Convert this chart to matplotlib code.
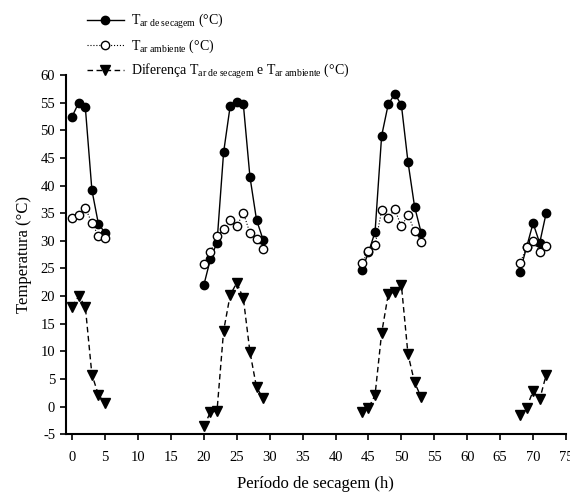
import numpy as np
import matplotlib
matplotlib.use("Agg")
import matplotlib.pyplot as plt

plt.rcParams['font.family'] = ['Liberation Serif', 'DejaVu Serif']
plt.rcParams['mathtext.fontset'] = 'custom'
plt.rcParams['mathtext.rm'] = 'Liberation Serif'
plt.rcParams['mathtext.it'] = 'Liberation Serif:italic'
plt.rcParams['axes.unicode_minus'] = False

nan = np.nan

# hours (nan breaks the lines between drying days)
hours = [0, 1, 2, 3, 4, 5, nan,
         20, 21, 22, 23, 24, 25, 26, 27, 28, 29, nan,
         44, 45, 46, 47, 48, 49, 50, 51, 52, 53, nan,
         68, 69, 70, 71, 72]

t_secagem = [52.5, 55.0, 54.2, 39.2, 33.0, 31.5, nan,
             22.0, 26.7, 29.7, 46.0, 54.4, 55.2, 54.7, 41.6, 33.8, 30.2, nan,
             24.7, 27.9, 31.6, 49.0, 54.7, 56.6, 54.6, 44.3, 36.2, 31.5, nan,
             24.4, 28.8, 33.2, 29.6, 35.1]

t_ambiente = [34.2, 34.7, 36.0, 33.2, 30.9, 30.6, nan,
              25.8, 27.9, 30.9, 32.1, 33.8, 32.6, 35.1, 31.4, 30.3, 28.5, nan,
              25.9, 28.2, 29.2, 35.5, 34.2, 35.7, 32.6, 34.7, 31.8, 29.8, nan,
              25.9, 28.8, 30.0, 27.9, 29.0]

diferenca = [18.1, 20.0, 18.1, 5.8, 2.1, 0.6, nan,
             -3.6, -1.0, -0.8, 13.7, 20.2, 22.4, 19.6, 9.9, 3.5, 1.5, nan,
             -1.0, -0.3, 2.1, 13.3, 20.3, 20.8, 22.0, 9.5, 4.4, 1.7, nan,
             -1.5, -0.2, 2.8, 1.3, 5.8]

fig = plt.figure(figsize=(5.7, 4.94), dpi=100)
ax = fig.add_axes([0.115, 0.121, 0.878, 0.727])

l1, = ax.plot(hours, t_secagem, '-', color='black', lw=1.0,
              marker='o', ms=6, mfc='black', mec='black', zorder=3)
l2, = ax.plot(hours, t_ambiente, ':', color='black', lw=0.8,
              marker='o', ms=6, mfc='white', mec='black', mew=1.0, zorder=4)
l3, = ax.plot(hours, diferenca, '--', color='black', lw=1.0, dashes=(4, 2.5),
              marker='v', ms=7, mfc='black', mec='black', zorder=3)

ax.set_xlim(-1, 75)
ax.set_ylim(-5, 60)
ax.set_xticks(np.arange(0, 76, 5))
ax.set_yticks(np.arange(-5, 61, 5))
ax.spines['top'].set_visible(False)
ax.spines['right'].set_visible(False)
ax.spines['left'].set_linewidth(1.5)
ax.spines['bottom'].set_linewidth(1.5)
ax.tick_params(direction='out', length=4, width=1.2, labelsize=10.5)
ax.tick_params(axis='x', pad=8)

ax.set_xlabel('Período de secagem (h)', fontsize=12, labelpad=9)
ax.set_ylabel('Temperatura (°C)', fontsize=12, labelpad=6)

labels = [r'T$_{\mathrm{ar\ de\ secagem}}$ (°C)',
          r'T$_{\mathrm{ar\ ambiente}}$ (°C)',
          r'Diferença T$_{\mathrm{ar\ de\ secagem}}$ e T$_{\mathrm{ar\ ambiente}}$ (°C)']
fig.legend([l1, l2, l3], labels, loc='upper left',
           bbox_to_anchor=(0.152, 0.976), frameon=False, fontsize=10,
           handlelength=2.7, handletextpad=0.5, labelspacing=0.5,
           borderpad=0, borderaxespad=0)

fig.savefig('out.png', dpi=100)
